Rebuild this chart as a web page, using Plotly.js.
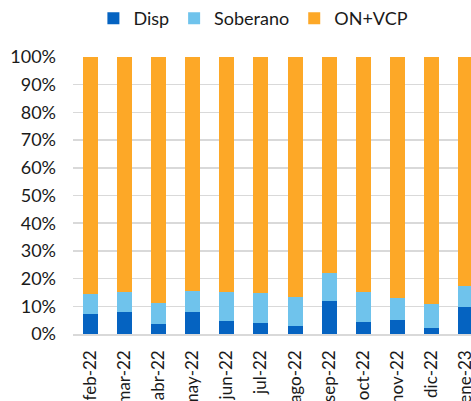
<!DOCTYPE html>
<html><head><meta charset="utf-8">
<script src="https://cdn.plot.ly/plotly-3.0.1.min.js"></script>
<style>html,body{margin:0;padding:0;overflow:hidden;width:471px;height:401px;background:#fff}</style>
</head><body><div id="chart"></div>
<script>
const categories = ["feb-22","mar-22","abr-22","may-22","jun-22","jul-22","ago-22","sep-22","oct-22","nov-22","dic-22","ene-23"];
const disp =      [7.4, 7.8, 3.6, 7.8, 4.8, 4.1, 2.8, 12.0, 4.4, 5.2, 2.3, 9.6];
const soberano =  [7.0, 7.2, 7.6, 7.6, 10.2, 10.6, 10.6, 10.2, 10.6, 7.8, 8.5, 7.9];
const onvcp = disp.map((d,i) => 100 - d - soberano[i]);
const yTicks = [0,10,20,30,40,50,60,70,80,90,100];
const yTickText = yTicks.map(v => v + "%");

const font = {family: "Lato, 'Open Sans', sans-serif", color: "#1a1a1a"};
const traces = [
  {name: "Disp", x: categories, y: disp, type: "bar", marker: {color: "#0563c1"}},
  {name: "Soberano", x: categories, y: soberano, type: "bar", marker: {color: "#6fc3ec"}},
  {name: "ON+VCP", x: categories, y: onvcp, type: "bar", marker: {color: "#fda827"}}
];
const layout = {
  width: 490, height: 401,
  margin: {l: 73, r: 7, t: 57, b: 67},
  barmode: "stack", bargap: 0.56,
  paper_bgcolor: "#fff", plot_bgcolor: "#fff",
  font: Object.assign({size: 17}, font),
  showlegend: true,
  legend: {orientation: "h", x: 0.44, xanchor: "center", y: 1, yref: "container", yanchor: "top",
           font: Object.assign({size: 18}, font), traceorder: "normal", itemwidth: 20,
           tracegroupgap: 0, itemsizing: "constant"},
  xaxis: {tickangle: -90, tickfont: Object.assign({size: 17}, font), showgrid: false,
          showline: true, linecolor: "#d9d9d9", linewidth: 1.5, ticks: "", automargin: false,
          ticklabelstandoff: 8},
  yaxis: {range: [0, 100], tickvals: yTicks, ticktext: yTickText, showgrid: true,
          gridcolor: "#d9d9d9", gridwidth: 1.5, zeroline: false, showline: false, ticks: "",
          tickfont: Object.assign({size: 18}, font), automargin: false, ticklabelstandoff: 16}
};
Plotly.newPlot("chart", traces, layout, {displayModeBar: false, staticPlot: true});
</script></body></html>
